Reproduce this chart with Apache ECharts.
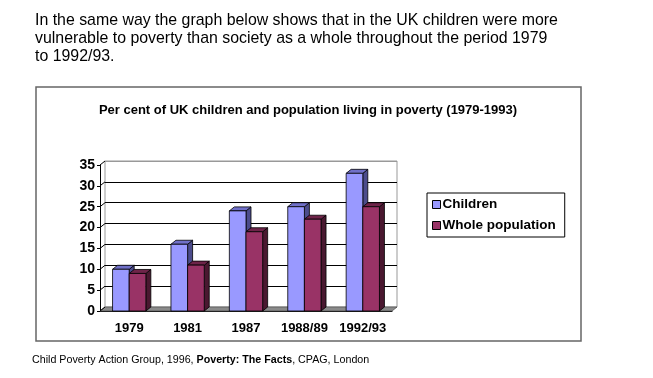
<!DOCTYPE html>
<html><head><meta charset="utf-8">
<script src="https://cdn.jsdelivr.net/npm/echarts@6/dist/echarts.min.js"></script>
<style>html,body{margin:0;padding:0;background:#fff;}#c{width:653px;height:378px;}</style>
</head><body><div id="c"></div>
<script>
var categories = ['1979', '1981', '1987', '1988/89', '1992/93'];
var children = [10, 16, 24, 25, 33];
var wholePopulation = [9, 11, 19, 22, 25];
var yTicks = [0, 5, 10, 15, 20, 25, 30, 35];
var introLines = [
  'In the same way the graph below shows that in the UK children were more',
  'vulnerable to poverty than society as a whole throughout the period 1979',
  'to 1992/93.'
];
var chartTitle = 'Per cent of UK children and population living in poverty (1979-1993)';

var DX = 5, DY = 4;
var FONT = '"Liberation Sans", Arial, sans-serif';

function makeRender(side, front, top, sideCol) {
  return function (params, api) {
    var cat = api.value(0), val = api.value(1);
    var p = api.coord([cat, val]);
    var b = api.coord([cat, 0]);
    var band = api.size([1, 0])[0];
    var w = band * 0.285;
    var x0 = side === 0 ? p[0] - w : p[0];
    var x1 = x0 + w;
    var yt = p[1], yb = b[1];
    var st = {stroke: '#000', lineWidth: 0.8};
    return {
      type: 'group',
      children: [
        {type: 'polygon', shape: {points: [[x1, yt], [x1 + DX, yt - DY], [x1 + DX, yb - DY], [x1, yb]]},
          style: Object.assign({fill: sideCol}, st)},
        {type: 'polygon', shape: {points: [[x0, yt], [x1, yt], [x1 + DX, yt - DY], [x0 + DX, yt - DY]]},
          style: Object.assign({fill: top}, st)},
        {type: 'rect', shape: {x: x0, y: yt, width: w, height: yb - yt},
          style: Object.assign({fill: front}, st)}
      ]
    };
  };
}

var chart = echarts.init(document.getElementById('c'), null, {renderer: 'canvas'});

var graphics = [
  {type: 'rect', shape: {x: 36, y: 87, width: 545, height: 254}, style: {fill: 'none', stroke: '#666', lineWidth: 1.5}, z: 0},
  {type: 'text', style: {text: chartTitle, x: 308, y: 104, fill: '#000', font: 'bold 13px ' + FONT, textAlign: 'center'}, z: 5},
  {type: 'text', style: {text: 'Child Poverty Action Group, 1996, {b|Poverty: The Facts}, CPAG, London', x: 32, y: 355,
    fill: '#000', font: '10.7px ' + FONT, rich: {b: {fontWeight: 'bold', fontSize: 10.7, fontFamily: FONT}}}, z: 5}
];
introLines.forEach(function (t, i) {
  graphics.push({type: 'text', style: {text: t, x: 35, y: 13 + i * 18, fill: '#000', font: '15.9px ' + FONT}, z: 5});
});

var option = {
  animation: false,
  textStyle: {fontFamily: FONT},
  grid: [
    {left: 100, top: 165, width: 292, height: 146},
    {left: 105, top: 161, width: 292, height: 146, show: true, borderColor: '#999', borderWidth: 1, backgroundColor: 'transparent'}
  ],
  xAxis: [
    {type: 'category', gridIndex: 0, data: categories, boundaryGap: true,
      axisLine: {lineStyle: {color: '#000', width: 1}}, axisTick: {length: 4, interval: 0, lineStyle: {color: '#000'}},
      axisLabel: {interval: 0, color: '#000', fontWeight: 'bold', fontSize: 13, margin: 11, fontFamily: FONT}},
    {type: 'category', gridIndex: 1, data: categories, show: false}
  ],
  yAxis: [
    {type: 'value', gridIndex: 0, min: 0, max: 35, interval: 5,
      axisLine: {show: true, lineStyle: {color: '#000'}}, axisTick: {show: true, length: 3, lineStyle: {color: '#000'}},
      splitLine: {show: false},
      axisLabel: {color: '#000', fontWeight: 'bold', fontSize: 14, margin: 5, fontFamily: FONT}},
    {type: 'value', gridIndex: 1, min: 0, max: 35, interval: 5,
      axisLine: {show: false}, axisTick: {show: false}, axisLabel: {show: false},
      splitLine: {show: true, lineStyle: {color: ['#888', '#000', '#000', '#000', '#000', '#000', '#000', '#999'], width: 1}}}
  ],
  legend: {
    orient: 'vertical', left: 427, top: 193,
    padding: [4, 9, 4, 5], itemGap: 6, itemWidth: 8, itemHeight: 8,
    borderColor: '#000', borderWidth: 1, icon: 'rect',
    itemStyle: {borderColor: '#000', borderWidth: 1},
    textStyle: {color: '#000', fontWeight: 'bold', fontSize: 13.5, fontFamily: FONT, padding: [0, 0, 0, -3], lineHeight: 15},
    data: ['Children', 'Whole population']
  },
  graphic: graphics,
  series: [
    {name: 'Children', type: 'custom', xAxisIndex: 0, yAxisIndex: 0, z: 10,
      itemStyle: {color: '#9999FF'},
      renderItem: makeRender(0, '#9999FF', '#7070C8', '#4C4C8C'),
      data: children.map(function (v, i) { return [i, v]; })},
    {name: 'Whole population', type: 'custom', xAxisIndex: 0, yAxisIndex: 0, z: 10,
      itemStyle: {color: '#993366'},
      renderItem: makeRender(1, '#993366', '#6E2449', '#4A1830'),
      data: wholePopulation.map(function (v, i) { return [i, v]; })}
  ]
};
chart.setOption(option);

// 3D box pieces (floor and side wall), placed through the axes' own conversion
var c0 = chart.convertToPixel({xAxisIndex: 0}, 0);
var c1 = chart.convertToPixel({xAxisIndex: 0}, 1);
var band = c1 - c0;
var xL = c0 - band / 2;
var xR = xL + band * categories.length;
var yZero = chart.convertToPixel({yAxisIndex: 0}, 0);
var extra = [
  {type: 'polygon', shape: {points: [[xL, yZero], [xR, yZero], [xR + DX, yZero - DY], [xL + DX, yZero - DY]]},
    style: {fill: '#8a8a8a', stroke: '#555', lineWidth: 0.8}, z: 3}
];
yTicks.forEach(function (t) {
  var y = chart.convertToPixel({yAxisIndex: 0}, t);
  extra.push({type: 'line', shape: {x1: xL, y1: y, x2: xL + DX, y2: y - DY}, style: {stroke: '#000', lineWidth: 1}, z: 3});
});
chart.setOption({graphic: graphics.concat(extra)});
</script></body></html>
